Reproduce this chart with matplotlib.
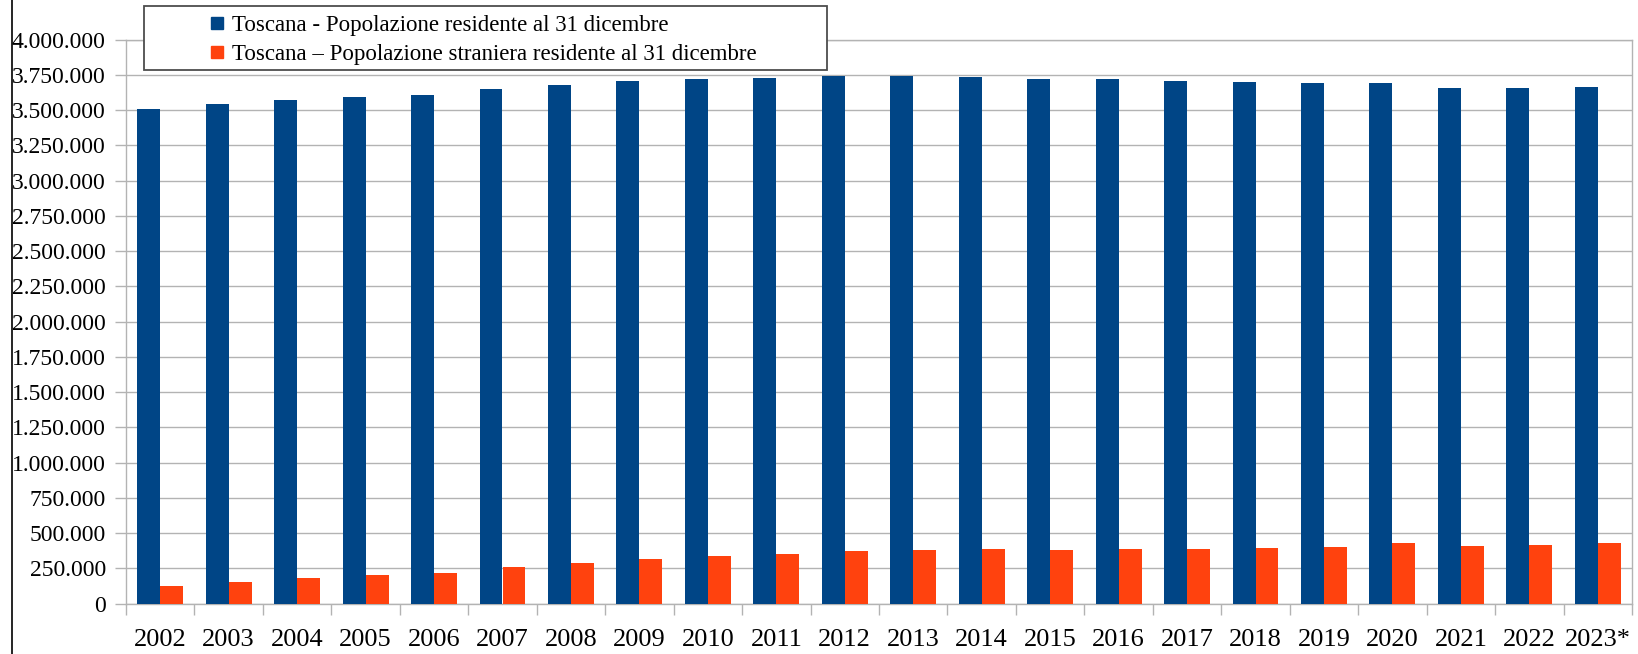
import matplotlib
matplotlib.use("Agg")
import matplotlib.pyplot as plt
from matplotlib.lines import Line2D
from matplotlib.patches import Rectangle
from matplotlib.ticker import FuncFormatter, MultipleLocator
import numpy as np

years = ["2002", "2003", "2004", "2005", "2006", "2007", "2008", "2009", "2010", "2011",
         "2012", "2013", "2014", "2015", "2016", "2017", "2018", "2019", "2020", "2021",
         "2022", "2023*"]
residenti = [3507000, 3543000, 3572000, 3593000, 3608000, 3651000, 3679000, 3708000,
             3722000, 3730000, 3743000, 3743000, 3736000, 3721000, 3721000, 3707000,
             3700000, 3693000, 3693000, 3657000, 3657000, 3664000]
stranieri = [124600, 152900, 181000, 202000, 216000, 259000, 287000, 315000, 336000,
             350000, 371600, 378600, 385700, 378600, 385700, 385700, 392800, 399800,
             430000, 407000, 414000, 430000]
label_res = "Toscana - Popolazione residente al 31 dicembre"
label_str = "Toscana – Popolazione straniera residente al 31 dicembre"

BLUE = "#004586"
ORANGE = "#ff420e"
GRID = "#b3b3b3"

plt.rcParams["font.family"] = ["Liberation Serif", "DejaVu Serif"]

W, H = 1638, 654
fig = plt.figure(figsize=(W / 100, H / 100), dpi=100)
L, R, T, B = 126, 1632, 39.5, 603.7
ax = fig.add_axes([L / W, 1 - B / H, (R - L) / W, (B - T) / H])

x = np.arange(len(years))
w = 0.335
ax.bar(x - w / 2, residenti, width=w, color=BLUE, zorder=3)
ax.bar(x + w / 2, stranieri, width=w, color=ORANGE, zorder=3)

ax.set_xlim(-0.5, len(years) - 0.5)
ax.set_ylim(0, 4000000)
ax.yaxis.set_major_locator(MultipleLocator(250000))
ax.yaxis.set_major_formatter(FuncFormatter(lambda v, p: f"{int(round(v)):,}".replace(",", ".")))
ax.set_xticks(x)
ax.set_xticklabels(years)
ax.set_xticks(np.arange(-0.5, len(years), 1.0), minor=True)
ax.tick_params(axis="x", which="major", length=0, pad=18, labelsize=19)
ax.tick_params(axis="x", which="minor", length=8, color=GRID, width=1)
ax.tick_params(axis="y", which="major", length=8, color=GRID, width=1, pad=6.5, labelsize=17)

ax.grid(axis="y", color=GRID, linewidth=1, zorder=0)
for s in ax.spines.values():
    s.set_color(GRID)
    s.set_linewidth(1)

# legend frame
frame = Rectangle((144 / W, 1 - 70 / H), (827 - 144) / W, 64 / H, transform=fig.transFigure,
                  facecolor="white", edgecolor="#4d4d4d", linewidth=1.3, zorder=5)
fig.add_artist(frame)

handles = [Line2D([], [], linestyle="none", marker="s", markersize=8.6, color=BLUE),
           Line2D([], [], linestyle="none", marker="s", markersize=8.6, color=ORANGE)]
leg = fig.legend(handles, [label_res, label_str], loc="center left",
                 bbox_to_anchor=(210.4 / W, 1 - 40 / H), frameon=False, fontsize=16.5,
                 handlelength=0.55, handletextpad=0.4, borderpad=0, borderaxespad=0,
                 labelspacing=0.37, numpoints=1)
leg.set_zorder(6)

fig.add_artist(Line2D([11.5 / W, 11.5 / W], [0, 1], color="black", linewidth=1.2,
                      transform=fig.transFigure))

fig.savefig("out.png", dpi=100)
